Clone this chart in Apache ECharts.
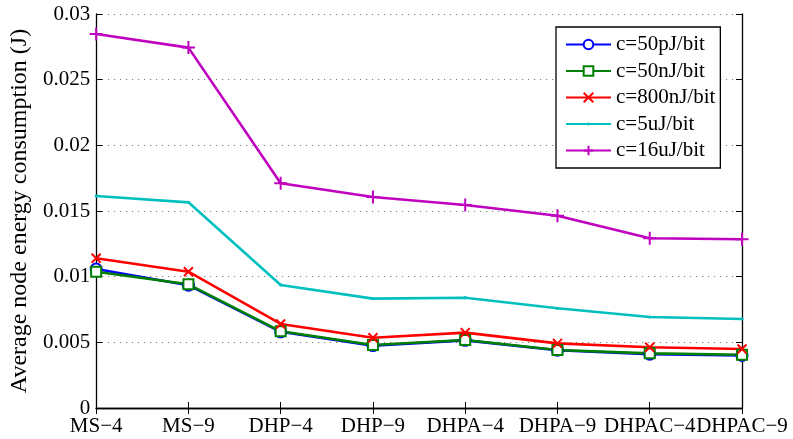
<!DOCTYPE html>
<html>
<head>
<meta charset="utf-8">
<script src="https://cdn.jsdelivr.net/npm/echarts@6/dist/echarts.min.js"></script>
<style>
  html, body { margin: 0; padding: 0; background: #fff; }
  #chart { width: 793px; height: 439px; }
</style>
</head>
<body>
<div id="chart"></div>
<script>
// Scenario labels along the x axis
const categories = ['MS\u22124', 'MS\u22129', 'DHP\u22124', 'DHP\u22129', 'DHPA\u22124', 'DHPA\u22129', 'DHPAC\u22124', 'DHPAC\u22129'];

// Average node energy consumption (J) for each per-bit cost c
const c50pJ  = [0.01058, 0.00935, 0.00580, 0.00475, 0.00515, 0.00440, 0.00410, 0.00400];
const c50nJ  = [0.01038, 0.00942, 0.00584, 0.00480, 0.00518, 0.00442, 0.00416, 0.00406];
const c800nJ = [0.01140, 0.01038, 0.00640, 0.00535, 0.00574, 0.00492, 0.00462, 0.00449];
const c5uJ   = [0.01614, 0.01566, 0.00937, 0.00833, 0.00840, 0.00759, 0.00693, 0.00678];
const c16uJ  = [0.02848, 0.02744, 0.01711, 0.01607, 0.01546, 0.01464, 0.01292, 0.01285];

// Y tick settings
const yMin = 0, yMax = 0.03, yStep = 0.005;

const FONT = '"Liberation Serif", "Times New Roman", serif';
// Stroked marker shapes
const CROSS = 'path://M0,0 L10,10 M10,0 L0,10';
const PLUS = 'path://M5,0 L5,10 M0,5 L10,5';
// Tiny point marker padded inside a larger box so it stays small at any size
const POINT = 'path://M0,0 M20,20 M9,10 A1,1 0 1,0 11,10 A1,1 0 1,0 9,10 Z';

function lineSeries(name, data, color, symbol, size) {
  return {
    name: name,
    type: 'line',
    data: data,
    symbol: symbol,
    symbolSize: size,
    showAllSymbol: true,
    animation: false,
    lineStyle: { color: color, width: 2.6 },
    itemStyle: { color: color, borderColor: color, borderWidth: 2 }
  };
}

const chart = echarts.init(document.getElementById('chart'), null, { renderer: 'canvas' });
chart.setOption({
  backgroundColor: '#fff',
  animation: false,
  textStyle: { fontFamily: FONT },
  grid: { left: 94, right: 51, top: 14, bottom: 31, containLabel: false },
  legend: {
    orient: 'vertical',
    left: 556,
    top: 27,
    padding: [7, 5, 7, 9],
    itemWidth: 45,
    itemHeight: 12,
    itemGap: 5.5,
    backgroundColor: '#fff',
    borderColor: '#000',
    borderWidth: 1.3,
    textStyle: { fontFamily: FONT, fontSize: 21, color: '#000' },
    data: ['c=50pJ/bit', 'c=50nJ/bit', 'c=800nJ/bit', 'c=5uJ/bit', 'c=16uJ/bit']
  },
  xAxis: [{
    type: 'category',
    data: categories,
    boundaryGap: false,
    axisLine: { lineStyle: { color: '#000', width: 1.3 } },
    axisTick: { inside: true, length: 6, lineStyle: { color: '#000' } },
    axisLabel: { fontFamily: FONT, fontSize: 21, color: '#000', margin: 8, interval: 0 },
    splitLine: { show: false }
  }, {
    type: 'category',
    data: categories,
    boundaryGap: false,
    position: 'top',
    axisLine: { lineStyle: { color: '#000', width: 1.3 } },
    axisTick: { inside: true, length: 6, lineStyle: { color: '#000' } },
    axisLabel: { show: false },
    splitLine: { show: false }
  }],
  yAxis: [{
    type: 'value',
    min: yMin, max: yMax, interval: yStep,
    name: 'Average node energy consumption (J)',
    nameLocation: 'middle',
    nameGap: 58,
    nameTextStyle: { fontFamily: FONT, fontSize: 24, color: '#000' },
    axisLine: { show: true, lineStyle: { color: '#000', width: 1.3 } },
    axisTick: { show: true, inside: true, length: 6, lineStyle: { color: '#000' } },
    axisLabel: { fontFamily: FONT, fontSize: 21, color: '#000', margin: 6 },
    splitLine: { show: true, lineStyle: { color: '#666', type: [1, 5], width: 1 } }
  }, {
    type: 'value',
    min: yMin, max: yMax, interval: yStep,
    position: 'right',
    axisLine: { show: true, lineStyle: { color: '#000', width: 1.3 } },
    axisTick: { show: true, inside: true, length: 6, lineStyle: { color: '#000' } },
    axisLabel: { show: false },
    splitLine: { show: false }
  }],
  series: [
    lineSeries('c=50pJ/bit', c50pJ, '#0000ff', 'emptyCircle', 11),
    lineSeries('c=50nJ/bit', c50nJ, '#008000', 'emptyRect', 10),
    lineSeries('c=800nJ/bit', c800nJ, '#ff0000', CROSS, 9),
    lineSeries('c=5uJ/bit', c5uJ, '#00bfbf', POINT, 12),
    lineSeries('c=16uJ/bit', c16uJ, '#bf00bf', PLUS, 13)
  ]
});
</script>
</body>
</html>
